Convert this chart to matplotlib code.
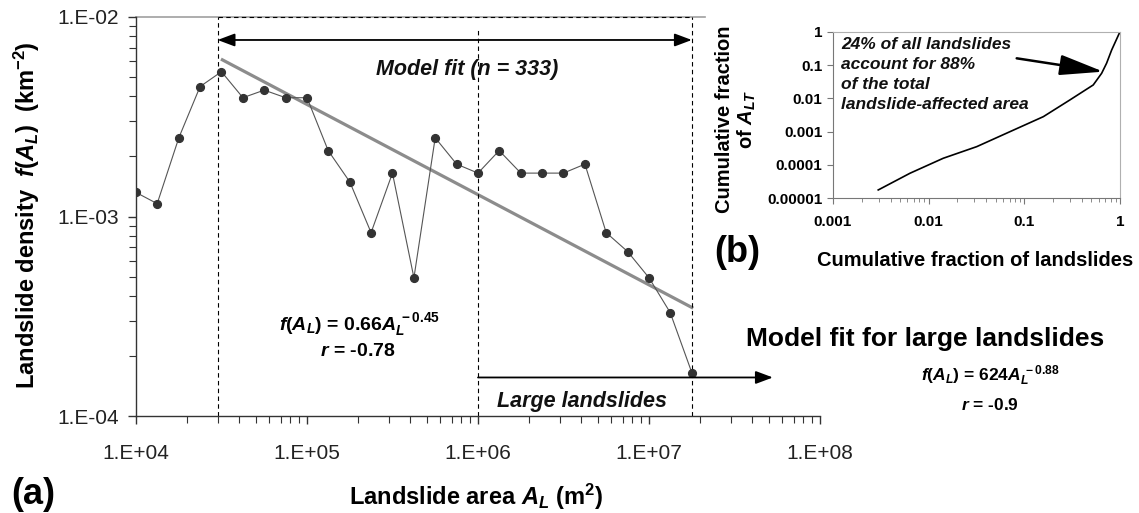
import matplotlib
matplotlib.use("Agg")
import matplotlib.pyplot as plt
from matplotlib.ticker import FixedLocator, NullFormatter, LogLocator

plt.rcParams['font.family'] = ['Liberation Sans', 'DejaVu Sans']
plt.rcParams['mathtext.fontset'] = 'custom'
plt.rcParams['mathtext.rm'] = 'Liberation Sans:bold'
plt.rcParams['mathtext.it'] = 'Liberation Sans:italic:bold'
plt.rcParams['mathtext.bf'] = 'Liberation Sans:bold'

# landslide area bins (m2) and probability density (km-2)
area = [1.0e4, 1.33e4, 1.78e4, 2.37e4, 3.16e4, 4.22e4, 5.62e4, 7.50e4,
        1.0e5, 1.33e5, 1.78e5, 2.37e5, 3.16e5, 4.22e5, 5.62e5, 7.50e5,
        1.0e6, 1.33e6, 1.78e6, 2.37e6, 3.16e6, 4.22e6, 5.62e6, 7.50e6,
        1.0e7, 1.33e7, 1.78e7]
density = [1.32e-3, 1.16e-3, 2.48e-3, 4.48e-3, 5.32e-3, 3.94e-3, 4.30e-3, 3.94e-3,
           3.94e-3, 2.14e-3, 1.49e-3, 8.30e-4, 1.65e-3, 4.93e-4, 2.48e-3, 1.83e-3,
           1.65e-3, 2.14e-3, 1.65e-3, 1.65e-3, 1.65e-3, 1.83e-3, 8.30e-4, 6.67e-4,
           4.93e-4, 3.30e-4, 1.65e-4]

# power-law fit line ends (model fit range)
fit_x = [3.2e4, 1.78e7]
fit_y = [6.1e-3, 3.5e-4]
fit_lo, fit_hi = 3.0e4, 1.78e7
large_lo = 1.0e6

x_ticks = [1e4, 1e5, 1e6, 1e7, 1e8]
x_labels = ['1.E+04', '1.E+05', '1.E+06', '1.E+07', '1.E+08']
y_ticks = [1e-4, 1e-3, 1e-2]
y_labels = ['1.E-04', '1.E-03', '1.E-02']

# inset: cumulative fraction of landslides vs cumulative fraction of area
cum_n = [0.00297, 0.00638, 0.0142, 0.0318, 0.0708, 0.158, 0.299, 0.525,
         0.643, 0.724, 0.818, 1.0]
cum_a = [1.78e-5, 5.65e-5, 1.59e-4, 3.55e-4, 1.0e-3, 2.82e-3, 8.93e-3, 0.0252,
         0.0565, 0.113, 0.282, 1.0]
in_x_ticks = [0.001, 0.01, 0.1, 1]
in_x_labels = ['0.001', '0.01', '0.1', '1']
in_y_ticks = [1e-5, 1e-4, 1e-3, 1e-2, 1e-1, 1]
in_y_labels = ['0.00001', '0.0001', '0.001', '0.01', '0.1', '1']

W, H = 1139, 513
fig = plt.figure(figsize=(W / 100, H / 100), dpi=100)


def P(x, y):
    return x / W, 1 - y / H


ax = fig.add_axes([136 / W, (H - 416) / H, (820 - 136) / W, (416 - 17) / H])
ax.set_xscale('log')
ax.set_yscale('log')
ax.set_xlim(1e4, 1e8)
ax.set_ylim(1e-4, 1e-2)

ax.plot(fit_x, fit_y, color='#8c8c8c', lw=2.3, zorder=2)
ax.plot(area, density, color='#555555', lw=0.8, marker='o', ms=5.6,
        mfc='#333333', mec='#333333', zorder=3)

# dashed box of the model-fit range
dash = dict(color='black', lw=0.8, ls=(0, (4, 3)))
ax.plot([1e4, 2.12e7], [1e-2, 1e-2], color='#a0a0a0', lw=1.2, clip_on=False, zorder=1)
ax.plot([fit_lo, fit_hi], [1e-2, 1e-2], clip_on=False, **dash)
ax.plot([fit_lo, fit_lo], [1e-4, 1e-2], **dash)
ax.plot([fit_hi, fit_hi], [1e-4, 1e-2], **dash)
ax.plot([large_lo, large_lo], [1e-4, 8.6e-3], **dash)

ax.annotate('', xy=(fit_hi, 7.67e-3), xytext=(fit_lo, 7.67e-3),
            arrowprops=dict(arrowstyle='<|-|>,head_length=0.8,head_width=0.3',
                            color='black', lw=1.3, shrinkA=0, shrinkB=0,
                            mutation_scale=13))
ax.annotate('', xy=(5.3e7, 1.56e-4), xytext=(large_lo, 1.56e-4),
            annotation_clip=False,
            arrowprops=dict(arrowstyle='-|>,head_length=0.8,head_width=0.3',
                            color='black', lw=1.3, shrinkA=0, shrinkB=0,
                            mutation_scale=13))

for s in ['top', 'right']:
    ax.spines[s].set_visible(False)
for s in ['left', 'bottom']:
    ax.spines[s].set_color('#333333')
    ax.spines[s].set_linewidth(1.0)

ax.xaxis.set_major_locator(FixedLocator(x_ticks))
ax.set_xticklabels(x_labels)
ax.yaxis.set_major_locator(FixedLocator(y_ticks))
ax.set_yticklabels(y_labels)
ax.xaxis.set_minor_locator(LogLocator(base=10, subs=range(2, 10)))
ax.yaxis.set_minor_locator(LogLocator(base=10, subs=range(2, 10)))
ax.xaxis.set_minor_formatter(NullFormatter())
ax.yaxis.set_minor_formatter(NullFormatter())
ax.tick_params(which='both', direction='out', color='#333333', labelsize=15,
               labelcolor='#222222')
ax.tick_params(which='major', length=6, width=1)
ax.tick_params(which='minor', length=5, width=0.8)
ax.tick_params(axis='x', pad=14)
ax.tick_params(axis='y', pad=6)

# text in main panel
bi = dict(fontweight='bold', fontstyle='italic', color='#111111')
fig.text(*P(467, 70), 'Model fit (n = 333)', ha='center', va='center', fontsize=15.5, **bi)
fig.text(*P(582, 401), 'Large landslides', ha='center', va='center', fontsize=15.5, **bi)
fig.text(*P(359, 325), r'$f(A_L)$ = 0.66$A_L^{\,-0.45}$', ha='center', va='center',
         fontsize=14, fontweight='bold')
fig.text(*P(358, 351), r'$r$ = -0.78', ha='center', va='center', fontsize=14,
         fontweight='bold')

fig.text(*P(925, 339), 'Model fit for large landslides', ha='center', va='center',
         fontsize=19, fontweight='bold')
fig.text(*P(990, 376), r'$f(A_L)$ = 624$A_L^{\,-0.88}$', ha='center', va='center',
         fontsize=12.5, fontweight='bold')
fig.text(*P(990, 405), r'$r$ = -0.9', ha='center', va='center', fontsize=12.5,
         fontweight='bold')

fig.text(*P(33, 495), '(a)', ha='center', va='center', fontsize=26, fontweight='bold')
fig.text(*P(476, 497), r'Landslide area $A_L$ (m$^{2}$)', ha='center', va='center',
         fontsize=17, fontweight='bold')
fig.text(*P(27, 215), r'Landslide density  $f(A_L)$  (km$^{-2}$)', ha='center',
         va='center', rotation=90, fontsize=17, fontweight='bold')

# inset (b)
ax2 = fig.add_axes([833 / W, (H - 198.3) / H, (1120 - 833) / W, (198.3 - 31.7) / H])
ax2.set_xscale('log')
ax2.set_yscale('log')
ax2.set_xlim(0.001, 1)
ax2.set_ylim(1e-5, 1)
ax2.plot(cum_n, cum_a, color='black', lw=1.2)
ax2.annotate('', xy=(0.67, 0.0632), xytext=(0.0832, 0.159),
             arrowprops=dict(arrowstyle='-|>,head_length=1.5,head_width=0.35',
                             color='black', lw=1.8, shrinkA=0, shrinkB=0,
                             mutation_scale=18))
fig.text(*P(841, 37), '24% of all landslides\naccount for 88%\nof the total\n'
         'landslide-affected area', ha='left', va='top', fontsize=12.5,
         linespacing=1.42, **bi)
for s in ['top', 'right']:
    ax2.spines[s].set_color('#b0b0b0')
for s in ['left', 'bottom']:
    ax2.spines[s].set_color('#777777')
ax2.xaxis.set_major_locator(FixedLocator(in_x_ticks))
ax2.set_xticklabels(in_x_labels)
ax2.yaxis.set_major_locator(FixedLocator(in_y_ticks))
ax2.set_yticklabels(in_y_labels)
ax2.xaxis.set_minor_locator(LogLocator(base=10, subs=range(2, 10)))
ax2.yaxis.set_minor_locator(LogLocator(base=10, subs=range(2, 10)))
ax2.xaxis.set_minor_formatter(NullFormatter())
ax2.yaxis.set_minor_formatter(NullFormatter())
ax2.tick_params(which='both', direction='out', color='#777777', labelsize=11)
ax2.tick_params(which='major', length=4)
ax2.tick_params(which='minor', length=3, width=0.6)
ax2.tick_params(axis='x', pad=8)
for lab in ax2.get_xticklabels() + ax2.get_yticklabels():
    lab.set_fontweight('bold')

fig.text(*P(975, 260), 'Cumulative fraction of landslides', ha='center', va='center',
         fontsize=14.5, fontweight='bold')
fig.text(*P(737, 119), 'Cumulative fraction\n' + r'of $A_{LT}$', ha='center',
         va='center', rotation=90, fontsize=14.5, fontweight='bold',
         multialignment='center', linespacing=1.1)
fig.text(*P(737, 252), '(b)', ha='center', va='center', fontsize=26, fontweight='bold')

fig.savefig('out.png', dpi=100)
